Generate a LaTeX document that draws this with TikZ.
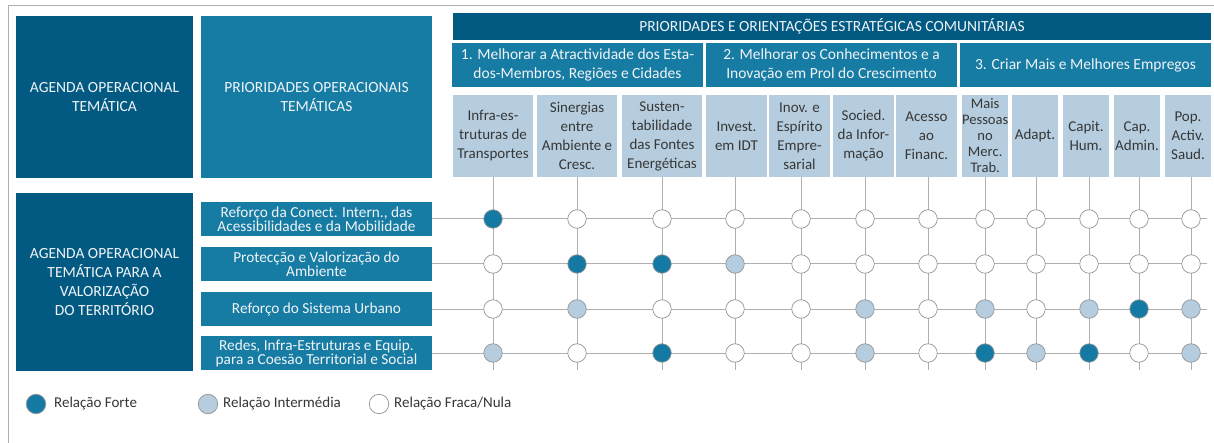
\documentclass[tikz,border=0pt]{standalone}
\usepackage{fontspec}
\setmainfont{Carlito}
\definecolor{cdark}{RGB}{2,90,130}
\definecolor{cmid}{RGB}{23,124,163}
\definecolor{clight}{RGB}{181,205,222}
\definecolor{cstrong}{RGB}{20,122,163}
\definecolor{cgrid}{RGB}{175,175,175}
\definecolor{cring}{RGB}{150,150,150}
\definecolor{ctext}{RGB}{55,55,55}
\definecolor{cwhite}{RGB}{240,244,247}
\newcommand\bx[7]{\node[#2,minimum width={#5-#3},minimum height={#6-#4}] (#1) at (#3,#4) {#7};}
\begin{document}
\begin{tikzpicture}[x=1pt,y=-1pt,
  boxbase/.style={anchor=north west,inner sep=0pt,outer sep=0pt,align=center},
  darkbox/.style={boxbase,fill=cdark,text=cwhite,font=\fontsize{15.5}{19}\selectfont},
  midbox/.style={boxbase,fill=cmid,text=cwhite,font=\fontsize{15.5}{19}\selectfont},
  colbox/.style={boxbase,fill=clight,text=ctext,font=\fontsize{15}{19}\selectfont},
  rowbox/.style={boxbase,fill=cmid,text=cwhite,font=\fontsize{15.3}{12}\selectfont},
  gridline/.style={draw=cgrid,line width=1pt},
  dot/.style={circle,draw=cring,line width=0.7pt,minimum size=18.5pt,inner sep=0pt},
  strong/.style={dot,fill=cstrong},
  mid/.style={dot,fill=clight},
  weak/.style={dot,fill=white},
  legtext/.style={anchor=west,inner sep=0pt,text=ctext,font=\fontsize{15}{19}\selectfont}]
\useasboundingbox (0,0) rectangle (1214,443);
\fill[white] (0,0) rectangle (1214,443);
\draw[cgrid,line width=1pt] (8,443) -- (8,6) -- (1214,6);
% left boxes
\bx{agenda}{darkbox}{16}{16}{193}{178}{AGENDA OPERACIONAL\\TEMÁTICA}
\bx{prior}{midbox}{201}{16}{432}{178}{PRIORIDADES OPERACIONAIS\\TEMÁTICAS}
\bx{agterr}{darkbox}{16}{193}{193}{371}{AGENDA OPERACIONAL\\TEMÁTICA PARA A\\VALORIZAÇÃO\\DO TERRITÓRIO}
% headers
\bx{top}{darkbox}{453}{13}{1211}{40}{PRIORIDADES E ORIENTAÇÕES ESTRATÉGICAS COMUNITÁRIAS}
\bx{g1}{midbox}{452}{43}{703}{87}{1. Melhorar a Atractividade dos Esta-\\dos-Membros, Regiões e Cidades}
\bx{g2}{midbox}{706}{43}{957}{87}{2. Melhorar os Conhecimentos e a\\Inovação em Prol do Crescimento}
\bx{g3}{midbox}{960}{43}{1211}{87}{3. Criar Mais e Melhores Empregos}
% column boxes
\bx{k1}{colbox}{453}{95}{533}{177}{Infra-es-\\truturas de\\Transportes}
\bx{k2}{colbox}{537}{95}{617}{177}{Sinergias\\entre\\Ambiente e\\Cresc.}
\bx{k3}{colbox}{622}{95}{702}{177}{Susten-\\tabilidade\\das Fontes\\Energéticas}
\bx{k4}{colbox}{706}{95}{767}{177}{Invest.\\em IDT}
\bx{k5}{colbox}{769}{95}{830}{177}{Inov. e\\Espírito\\Empre-\\sarial}
\bx{k6}{colbox}{833}{95}{894}{177}{Socied.\\da Infor-\\mação}
\bx{k7}{colbox}{896}{95}{957}{177}{Acesso\\ao\\Financ.}
\bx{k8}{colbox,font=\fontsize{14.6}{16}\selectfont}{962}{95}{1008}{177}{Mais\\Pessoas\\no\\Merc.\\Trab.}
\bx{k9}{colbox}{1012}{95}{1058}{177}{Adapt.}
\bx{k10}{colbox}{1063}{95}{1109}{177}{Capit.\\Hum.}
\bx{k11}{colbox}{1114}{95}{1160}{177}{Cap.\\Admin.}
\bx{k12}{colbox}{1165}{95}{1211}{177}{Pop.\\Activ.\\Saud.}
% row boxes
\bx{r1}{rowbox}{201}{202}{432}{236}{Reforço da Conect. Intern., das\\Acessibilidades e da Mobilidade}
\bx{r2}{rowbox}{201}{247}{432}{281}{Protecção e Valorização do\\Ambiente}
\bx{r3}{rowbox}{201}{292}{432}{326}{Reforço do Sistema Urbano}
\bx{r4}{rowbox}{201}{336}{432}{370}{Redes, Infra-Estruturas e Equip.\\para a Coesão Territorial e Social}
% grid line ends
\foreach \c/\x in {1/493,2/577,3/662,4/735,5/801,6/865,7/928,8/985,9/1036,10/1089,11/1139,12/1191}{
  \coordinate (vend\c) at (\x,370);
  \draw[gridline] (k\c.south -| vend\c) -- (vend\c);
}
\foreach \r in {1,...,4}{
  \coordinate (hend\r) at (1207,0);
  \draw[gridline] (r\r.east) -- (r\r.east -| hend\r);
}
% circles
\foreach \r/\vals in {1/{strong,weak,weak,weak,weak,weak,weak,weak,weak,weak,weak,weak},
                      2/{weak,strong,strong,mid,weak,weak,weak,weak,weak,weak,weak,weak},
                      3/{weak,mid,weak,weak,weak,mid,weak,mid,weak,mid,strong,mid},
                      4/{mid,weak,strong,weak,weak,mid,weak,strong,mid,strong,weak,mid}}{
  \foreach \s [count=\c] in \vals {
    \node[\s] (d\r-\c) at (vend\c |- r\r.east) {};
  }
}
% legend
\node[strong,minimum size=19.5pt] (l1) at (36,404) {};
\node[legtext] (lt1) at (54,404) {Relação Forte};
\node[mid,minimum size=19.5pt] (l2) at (208,404) {};
\node[legtext] (lt2) at (223,404) {Relação Intermédia};
\node[weak,minimum size=19.5pt] (l3) at (379,404) {};
\node[legtext] (lt3) at (394,404) {Relação Fraca/Nula};
\end{tikzpicture}
\end{document}
